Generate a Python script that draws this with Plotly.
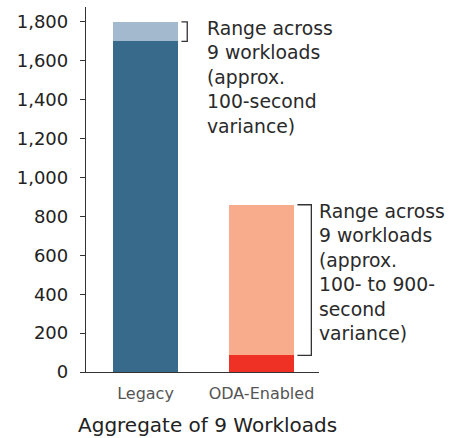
import plotly.graph_objects as go

categories = ["Legacy", "ODA-Enabled"]
low_values = [1700, 85]
high_values = [1800, 860]
range_notes = [
    "Range across<br>9 workloads<br>(approx.<br>100-second<br>variance)",
    "Range across<br>9 workloads<br>(approx.<br>100- to 900-<br>second<br>variance)",
]
x_title = "Aggregate of 9 Workloads"
y_ticks = list(range(0, 1801, 200))

base_colors = ["#386a8c", "#ee3124"]
top_colors = ["#a3b9cd", "#f8ac8c"]
FONT = "DejaVu Sans"
BAR_W = 0.56

fig = go.Figure()
fig.add_trace(go.Bar(x=[0, 1], y=low_values, width=BAR_W,
                     marker=dict(color=base_colors, line=dict(width=0)),
                     hoverinfo="skip"))
fig.add_trace(go.Bar(x=[0, 1], y=[h - l for h, l in zip(high_values, low_values)],
                     width=BAR_W,
                     marker=dict(color=top_colors, line=dict(width=0)),
                     hoverinfo="skip"))

# brackets and notes
bracket_x = [(0.31, 0.36), (1.31, 1.43)]
text_x = [0.51, 1.48]
shapes = []
annotations = []
for i in range(2):
    x0, x1 = bracket_x[i]
    lo, hi = low_values[i], high_values[i]
    shapes.append(dict(type="path", xref="x", yref="y",
                       path=f"M {x0},{hi} L {x1},{hi} L {x1},{lo} L {x0},{lo}",
                       line=dict(color="#333333", width=1.3)))
    annotations.append(dict(x=text_x[i], y=hi, xref="x", yref="y",
                            xanchor="left", yanchor="top", align="left",
                            showarrow=False, yshift=6, text=range_notes[i],
                            font=dict(family=FONT, size=18.8, color="#2a2a2a")))

annotations.append(dict(x=0.521, y=-0.145, xref="paper", yref="paper",
                        xanchor="center", yanchor="middle", showarrow=False,
                        text=x_title, font=dict(family=FONT, size=20, color="#222222")))

fig.update_layout(
    width=462, height=438,
    margin=dict(l=86, r=143, t=7, b=66),
    paper_bgcolor="white", plot_bgcolor="white",
    barmode="stack", showlegend=False,
    shapes=shapes, annotations=annotations,
    xaxis=dict(range=[-0.513, 1.496], tickmode="array", tickvals=[0, 1],
               ticktext=categories, showline=True, linecolor="#333333",
               linewidth=1.3, ticks="", showgrid=False, zeroline=False,
               ticklabelstandoff=7,
               tickfont=dict(family=FONT, size=16, color="#555555")),
    yaxis=dict(range=[0, 1877], tickmode="array", tickvals=y_ticks,
               ticktext=[f"{v:,}" for v in y_ticks], showline=True,
               linecolor="#333333", linewidth=1.3, ticks="outside", ticklen=5,
               tickcolor="#333333", showgrid=False, zeroline=False,
               ticklabelstandoff=8,
               tickfont=dict(family=FONT, size=18, color="#222222")),
)

fig.write_html("out.html", config={"displayModeBar": False},
               post_script="document.body.style.margin='0';")
